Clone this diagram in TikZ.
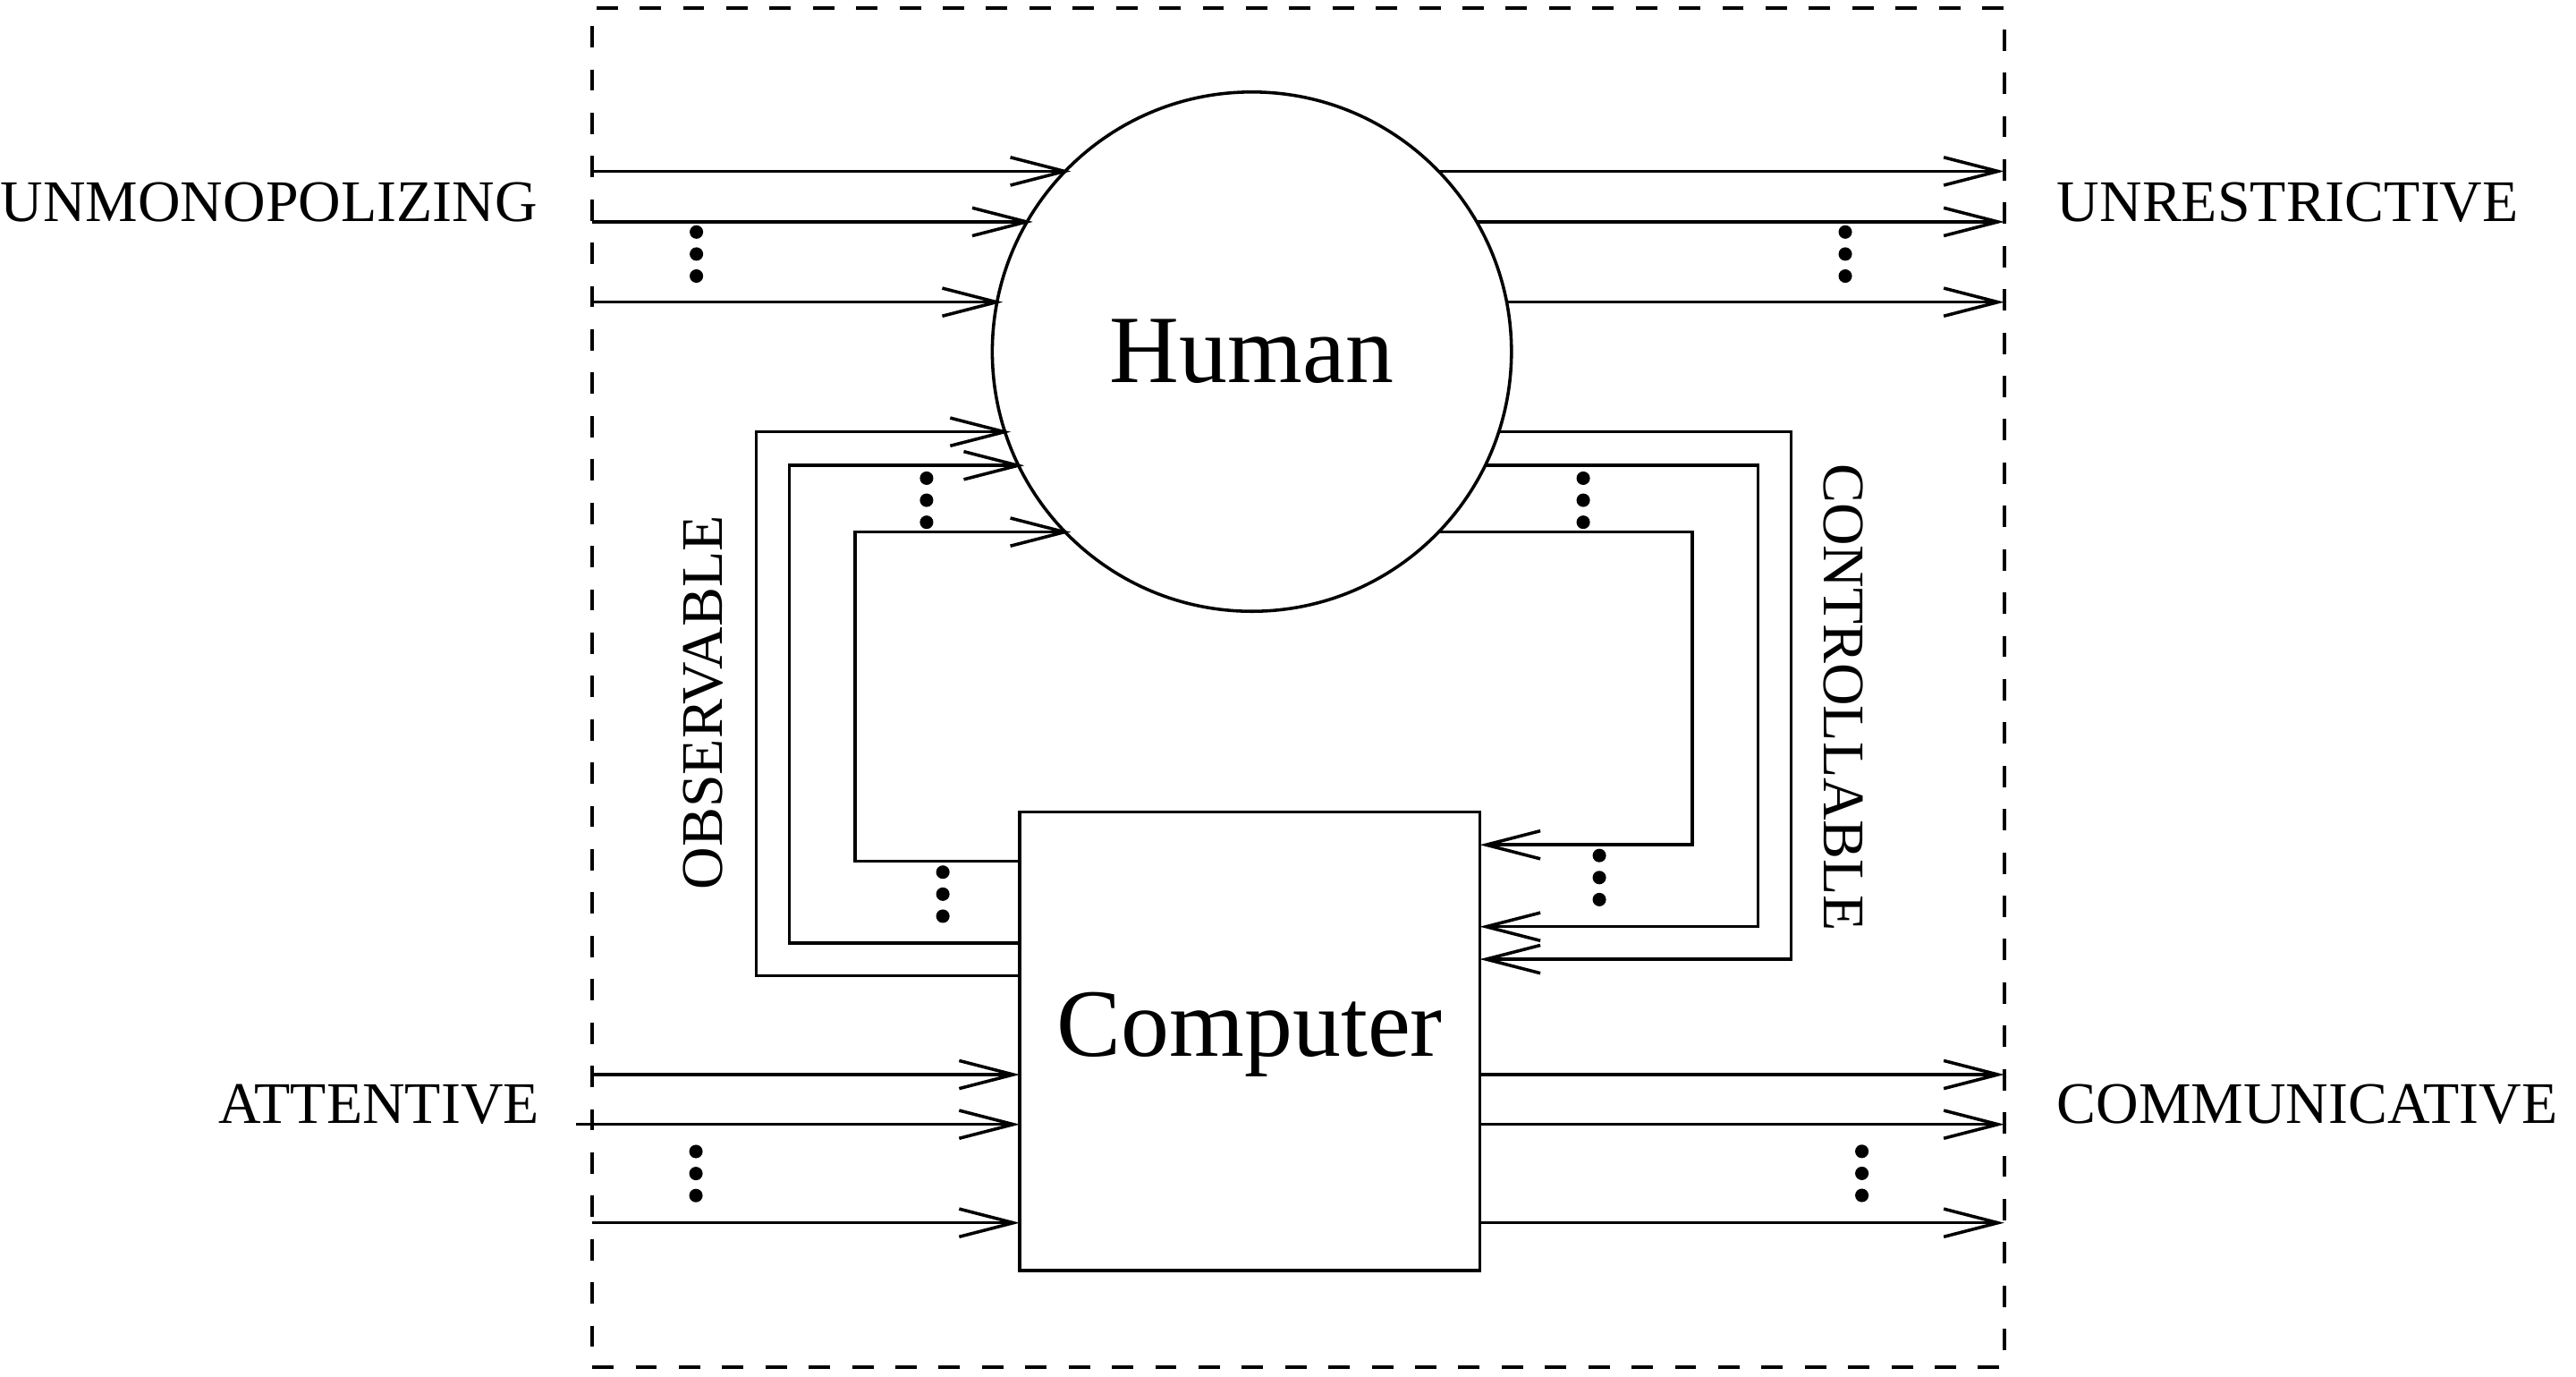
\documentclass[tikz,border=0pt]{standalone}
\usepackage{fontspec}
\setmainfont{Liberation Serif}
\usetikzlibrary{arrows.meta}
\tikzset{
    flow/.style={line width=0.55pt,-{Straight Barb[length=3.3mm,width=1.7mm]}},
    lbl/.style={inner sep=0pt,font=\fontsize{10.2}{12}\selectfont},
    big/.style={inner sep=0pt,font=\fontsize{16.7}{20}\selectfont},
}
\newcommand\dotcol[1]{\fill (#1) ++(0,0.134) circle (0.041) ++(0,-0.134) circle (0.041) ++(0,-0.134) circle (0.041);}
\begin{document}
\begin{tikzpicture}[line width=0.55pt]
        \useasboundingbox (0,0) rectangle (15.68,8.374);
        %% dashed boundary
        \node[draw,dash pattern=on 3.7pt off 3.8pt,minimum width=8.595cm,minimum height=8.27cm,inner sep=0pt,outer sep=0pt] (frame) at (7.9025,4.189) {};
        %% human and computer
        \node[draw,circle,minimum size=3.16cm,outer sep=0pt,big] (human) at (7.62,6.234) {Human};
        \node[draw,minimum width=2.8cm,minimum height=2.79cm,inner sep=0pt,outer sep=0pt] (computer) at (7.607,2.039) {};
        \node[big,anchor=base] (computertext) at ([yshift=-0.9mm]computer.center) {Computer};
        %% human in and out
        \foreach \a/\b in {136/44,150/30,169/11} {
            \draw[flow,shorten >=-1pt] (human.\a -| frame.west) -- (human.\a);
            \draw[flow] (human.\b) -- (human.\b -| frame.east);
        }
        %% computer in and out
        \coordinate (cin1) at (3.605,1.835);
        \coordinate (cin2) at (3.508,1.532);
        \coordinate (cin3) at (3.605,0.933);
        \foreach \c in {cin1,cin2,cin3} {
            \draw[flow] (\c) -- (\c -| computer.west);
            \draw[flow] (computer.east |- \c) -- (frame.east |- \c);
        }
        %% loops
        \coordinate (obs1) at (4.602,2.436);
        \coordinate (obs2) at (4.804,2.635);
        \coordinate (obs3) at (5.205,3.134);
        \coordinate (ctl1) at (10.902,2.537);
        \coordinate (ctl2) at (10.702,2.735);
        \coordinate (ctl3) at (10.301,3.233);
        \foreach \c/\a in {obs1/198,obs2/206,obs3/224}
            \draw[flow,shorten >=-1pt] (computer.west |- \c) -- (\c) |- (human.\a);
        \foreach \c/\a in {ctl1/342,ctl2/334,ctl3/316}
            \draw[flow] (human.\a) -| (\c) -- (\c -| computer.east);
        %% dots
        \dotcol{4.239,6.828}
        \dotcol{11.232,6.828}
        \dotcol{5.64,5.330}
        \dotcol{9.637,5.330}
        \dotcol{5.739,2.933}
        \dotcol{9.735,3.034}
        \dotcol{4.236,1.233}
        \dotcol{11.333,1.234}
        %% labels
        \node[lbl,anchor=base east] (unmono) at (3.28,7.027) {UNMONOPOLIZING};
        \node[lbl,anchor=base west] (unrestr) at (12.512,7.027) {UNRESTRICTIVE};
        \node[lbl,anchor=base east] (attent) at (3.291,1.536) {ATTENTIVE};
        \node[lbl,anchor=base west] (commun) at (12.51,1.536) {COMMUNICATIVE};
        \node[lbl,rotate=90] (observ) at (4.28,4.099) {OBSERVABLE};
        \node[lbl,rotate=-90] (control) at (11.222,4.129) {CONTROLLABLE};
\end{tikzpicture}
\end{document}
